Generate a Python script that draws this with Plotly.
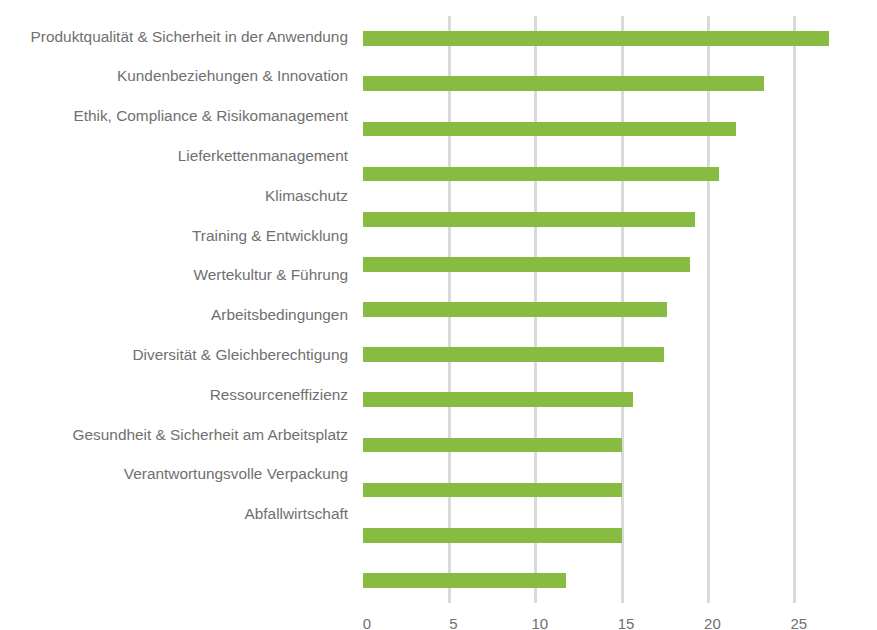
import plotly.graph_objects as go

labels = [
    "Produktqualität & Sicherheit in der Anwendung",
    "Kundenbeziehungen & Innovation",
    "Ethik, Compliance & Risikomanagement",
    "Lieferkettenmanagement",
    "Klimaschutz",
    "Training & Entwicklung",
    "Wertekultur & Führung",
    "Arbeitsbedingungen",
    "Diversität & Gleichberechtigung",
    "Ressourceneffizienz",
    "Gesundheit & Sicherheit am Arbeitsplatz",
    "Verantwortungsvolle Verpackung",
    "Abfallwirtschaft",
]
values = [27.0, 23.2, 21.6, 20.6, 19.2, 18.95, 17.6, 17.4, 15.65, 15.0, 15.0, 15.0, 11.75]
x_ticks = [0, 5, 10, 15, 20, 25, 30]

x_max = 29.76
text_color = "#707070"
font_family = "Liberation Sans, Arial, sans-serif"

fig = go.Figure()
fig.add_trace(go.Bar(
    x=values, y=labels, orientation="h",
    marker=dict(color="#88bb41", line=dict(width=0)),
    width=0.326, hoverinfo="x+y", showlegend=False,
))
# invisible helper trace carrying the (offset) category labels axis
fig.add_trace(go.Scatter(
    x=values, y=list(range(len(labels))), yaxis="y2", mode="markers",
    marker=dict(opacity=0), hoverinfo="skip", showlegend=False,
))

fig.add_annotation(
    x=x_ticks[-1] / x_max, xref="x domain", y=0, yref="y domain",
    text=str(x_ticks[-1]), showarrow=False, xanchor="center", yanchor="top",
    xshift=4, yshift=-10, font=dict(size=15, color=text_color, family=font_family),
)

fig.update_layout(
    width=877, height=630,
    margin=dict(l=355, r=8, t=8, b=35, autoexpand=False),
    paper_bgcolor="white", plot_bgcolor="white",
    font=dict(family=font_family, size=15, color=text_color),
    bargap=0,
    xaxis=dict(
        range=[0, x_max], tickvals=x_ticks, showgrid=True, gridcolor="#d9d9d9",
        gridwidth=3, zeroline=False, showline=False, ticks="", automargin=False,
        ticklabelstandoff=10, ticklabelshift=4,
        tickfont=dict(size=15, color=text_color),
    ),
    yaxis=dict(
        type="category", autorange="reversed", showticklabels=False,
        showgrid=False, zeroline=False, showline=False, ticks="", automargin=False,
    ),
    yaxis2=dict(
        overlaying="y", side="left", range=[14.241, -0.5075], automargin=False,
        tickmode="array", tickvals=list(range(len(labels))), ticktext=labels,
        showgrid=False, zeroline=False, showline=False, ticks="",
        ticklabelstandoff=14, tickfont=dict(size=15.4, color=text_color),
    ),
)

fig.write_html("out.html")
